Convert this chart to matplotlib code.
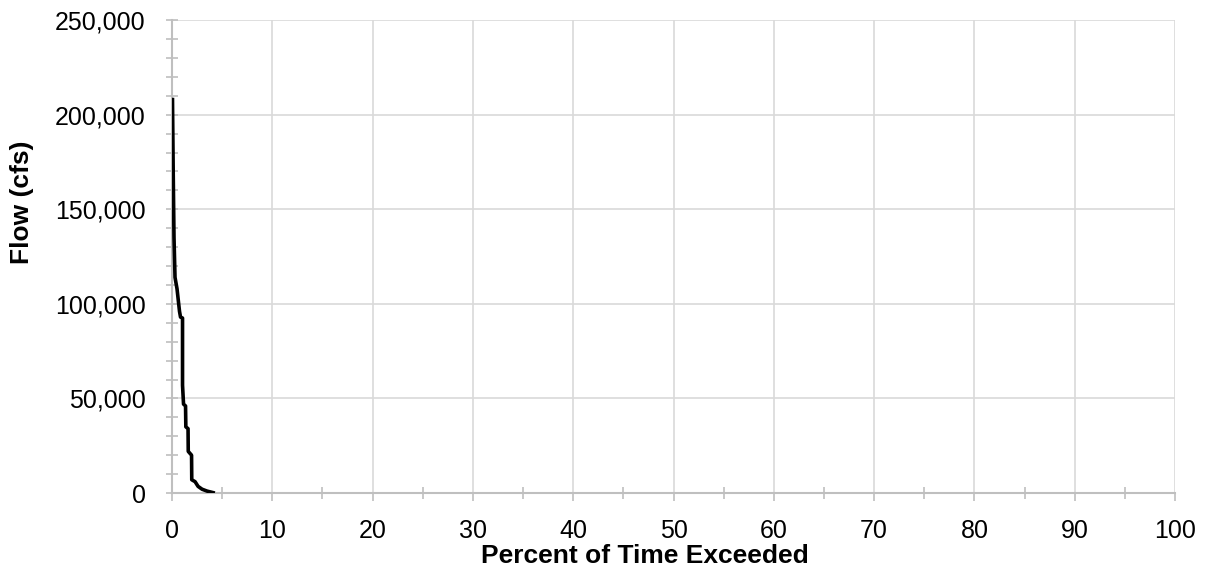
import matplotlib
matplotlib.use("Agg")
import matplotlib.pyplot as plt
from matplotlib.ticker import MultipleLocator, FuncFormatter

plt.rcParams['font.family'] = ['Liberation Sans', 'DejaVu Sans']

percent_exceeded = [0.05, 0.12, 0.2, 0.3, 0.5, 0.75, 0.85, 1.05, 1.05, 1.15, 1.35, 1.38,
                    1.6, 1.62, 1.95, 1.97, 2.3, 2.6, 3.0, 3.5, 4.1]
flow_cfs = [208000, 170000, 135000, 114000, 108000, 96000, 93000, 92500, 57000, 47000,
            46000, 35000, 34000, 22000, 20000, 7000, 6000, 3500, 2000, 1000, 200]

x_label = "Percent of Time Exceeded"
y_label = "Flow (cfs)"

fig = plt.figure(figsize=(12.07, 5.67), dpi=100)
ax = fig.add_axes([0.1425, 0.1305, 0.831, 0.834])

ax.plot(percent_exceeded, flow_cfs, color='black', lw=2.6, solid_joinstyle='round', zorder=3)

ax.set_xlim(0, 100)
ax.set_ylim(0, 250000)
ax.xaxis.set_major_locator(MultipleLocator(10))
ax.xaxis.set_minor_locator(MultipleLocator(5))
ax.yaxis.set_major_locator(MultipleLocator(50000))
ax.yaxis.set_minor_locator(MultipleLocator(10000))
ax.yaxis.set_major_formatter(FuncFormatter(lambda v, p: f"{int(v):,}"))

grid_c = '#d9d9d9'
axis_c = '#bfbfbf'
ax.grid(True, which='major', color=grid_c, lw=1.2)
ax.set_axisbelow(True)
for s in ['top', 'right']:
    ax.spines[s].set_visible(False)
for s in ['left', 'bottom']:
    ax.spines[s].set_color(axis_c)
    ax.spines[s].set_linewidth(1.5)

ax.tick_params(axis='both', which='both', color=axis_c, width=1.2, labelsize=18, labelcolor='black')
ax.tick_params(axis='x', which='major', direction='out', length=6, pad=13)
ax.tick_params(axis='x', which='minor', direction='inout', length=8)
ax.tick_params(axis='y', which='both', direction='inout', length=8, pad=15)

fig.text(645 / 1207, 1 - 563 / 567, x_label, fontsize=19, fontweight='bold',
         ha='center', va='baseline')
fig.text(22 / 1207, 1 - 202 / 567, y_label, fontsize=19, fontweight='bold',
         ha='center', va='center', rotation=90)

fig.savefig('out.png', dpi=100)
